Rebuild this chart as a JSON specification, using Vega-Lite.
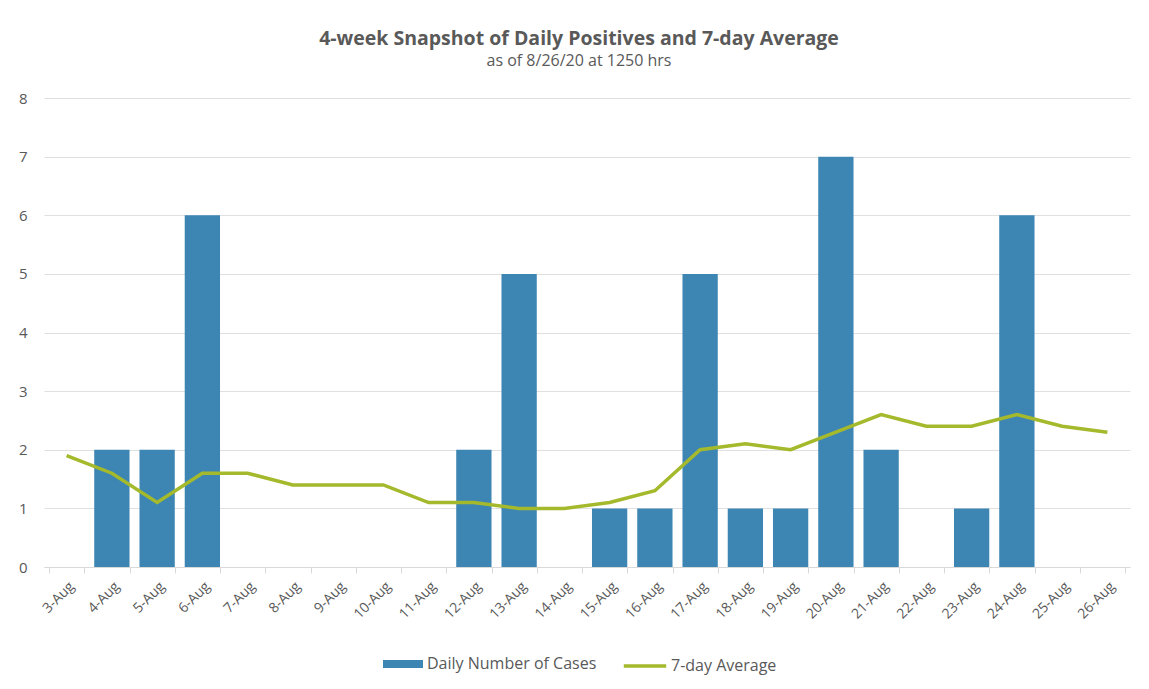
{
  "$schema": "https://vega.github.io/schema/vega-lite/v6.json",
  "width": 1086,
  "height": 469,
  "autosize": "none",
  "padding": {"left": 44, "top": 98, "right": 19, "bottom": 122},
  "background": "white",
  "title": {
    "text": "4-week Snapshot of Daily Positives and 7-day Average",
    "subtitle": "as of 8/26/20 at 1250 hrs",
    "anchor": "middle",
    "dx": -8,
    "offset": 21,
    "font": "Open Sans",
    "fontSize": 19.5,
    "fontWeight": "bold",
    "color": "#595959",
    "subtitleFont": "Open Sans",
    "subtitleFontSize": 16,
    "subtitleColor": "#595959",
    "subtitlePadding": 4
  },
  "data": {
    "values": [
      {"date": "3-Aug", "cases": 0, "avg": 1.9},
      {"date": "4-Aug", "cases": 2, "avg": 1.6},
      {"date": "5-Aug", "cases": 2, "avg": 1.1},
      {"date": "6-Aug", "cases": 6, "avg": 1.6},
      {"date": "7-Aug", "cases": 0, "avg": 1.6},
      {"date": "8-Aug", "cases": 0, "avg": 1.4},
      {"date": "9-Aug", "cases": 0, "avg": 1.4},
      {"date": "10-Aug", "cases": 0, "avg": 1.4},
      {"date": "11-Aug", "cases": 0, "avg": 1.1},
      {"date": "12-Aug", "cases": 2, "avg": 1.1},
      {"date": "13-Aug", "cases": 5, "avg": 1.0},
      {"date": "14-Aug", "cases": 0, "avg": 1.0},
      {"date": "15-Aug", "cases": 1, "avg": 1.1},
      {"date": "16-Aug", "cases": 1, "avg": 1.3},
      {"date": "17-Aug", "cases": 5, "avg": 2.0},
      {"date": "18-Aug", "cases": 1, "avg": 2.1},
      {"date": "19-Aug", "cases": 1, "avg": 2.0},
      {"date": "20-Aug", "cases": 7, "avg": 2.3},
      {"date": "21-Aug", "cases": 2, "avg": 2.6},
      {"date": "22-Aug", "cases": 0, "avg": 2.4},
      {"date": "23-Aug", "cases": 1, "avg": 2.4},
      {"date": "24-Aug", "cases": 6, "avg": 2.6},
      {"date": "25-Aug", "cases": 0, "avg": 2.4},
      {"date": "26-Aug", "cases": 0, "avg": 2.3}
    ]
  },
  "encoding": {
    "x": {
      "field": "date",
      "type": "ordinal",
      "sort": null,
      "title": null,
      "scale": {"paddingInner": 0.22, "paddingOuter": 0.11},
      "axis": {
        "labelAngle": -45,
        "tickBand": "extent",
        "labelFont": "Open Sans",
        "labelFontSize": 14,
        "labelColor": "#595959",
        "labelPadding": 6,
        "domainColor": "#d9d9d9",
        "tickColor": "#d9d9d9",
        "tickSize": 6,
        "grid": false
      }
    }
  },
  "layer": [
    {
      "mark": {"type": "bar", "color": "#3d86b4"},
      "encoding": {
        "y": {
          "field": "cases",
          "type": "quantitative",
          "title": null,
          "scale": {"domain": [0, 8]},
          "axis": {
            "values": [0, 1, 2, 3, 4, 5, 6, 7, 8],
            "domain": false,
            "ticks": false,
            "labelFont": "Open Sans",
            "labelFontSize": 15,
            "labelColor": "#595959",
            "labelPadding": 17,
            "gridColor": "#e0e0e0"
          }
        },
        "fill": {
          "datum": "Daily Number of Cases",
          "scale": {"range": ["#3d86b4"]},
          "legend": {
            "title": null,
            "orient": "none",
            "legendX": 338,
            "legendY": 545,
            "symbolType": "M-1,-0.2H1V0.2H-1Z",
            "symbolSize": 1600,
            "labelFont": "Open Sans",
            "labelFontSize": 16,
            "labelColor": "#595959",
            "labelOffset": 3,
            "labelLimit": 300
          }
        }
      }
    },
    {
      "mark": {"type": "line", "strokeWidth": 3.5, "color": "#a4b92b"},
      "encoding": {
        "y": {
          "field": "avg",
          "type": "quantitative",
          "title": null,
          "axis": {
            "values": [0, 1, 2, 3, 4, 5, 6, 7, 8],
            "domain": false,
            "ticks": false,
            "labelFont": "Open Sans",
            "labelFontSize": 15,
            "labelColor": "#595959",
            "labelPadding": 17,
            "gridColor": "#e0e0e0"
          }
        },
        "stroke": {
          "datum": "7-day Average",
          "scale": {"range": ["#a4b92b"]},
          "legend": {
            "title": null,
            "orient": "none",
            "legendX": 578,
            "legendY": 545,
            "symbolType": "stroke",
            "symbolSize": 1800,
            "symbolStrokeWidth": 3.5,
            "labelFont": "Open Sans",
            "labelFontSize": 16,
            "labelColor": "#595959",
            "labelOffset": 3,
            "labelLimit": 300
          }
        }
      }
    }
  ],
  "config": {
    "view": {"stroke": null}
  }
}
